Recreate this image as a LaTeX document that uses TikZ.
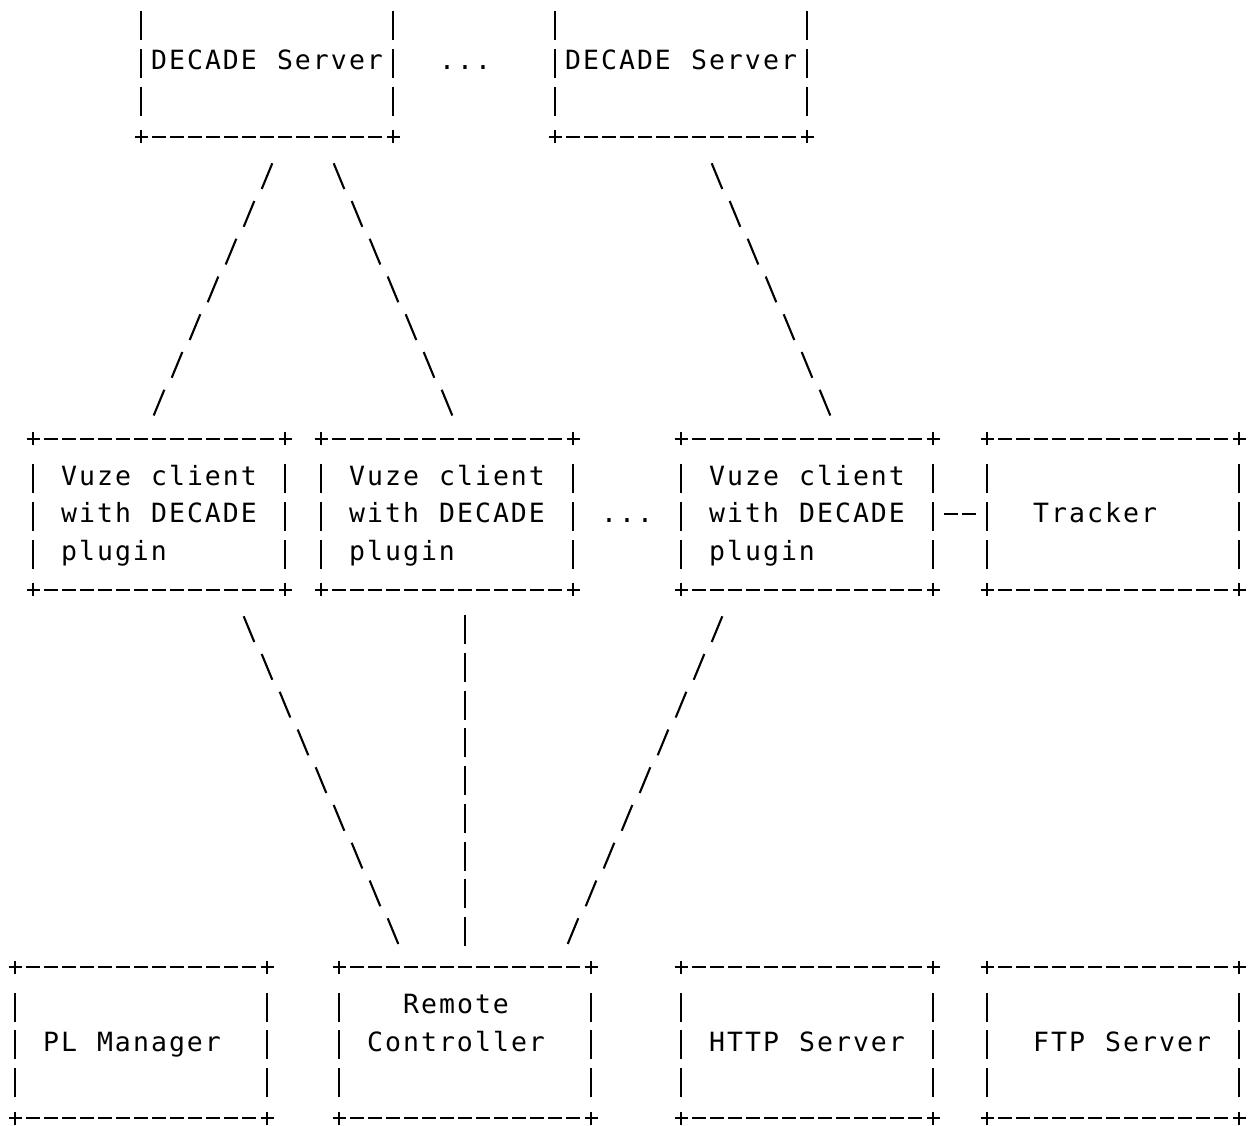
\documentclass[tikz,border=0pt]{standalone}
\usepackage{fontspec}
\newfontfamily\asciifont{DejaVu Sans Mono}
% one character per fixed 18pt cell; '_' stands for a blank cell
\def\asciiend{ASCIIEND}
\newcommand\asciiloop[1]{\ifx#1\asciiend\else\hbox to 18pt{\hss\ifx#1_\else#1\fi\hss}\expandafter\asciiloop\fi}
\newcommand\asciiline[1]{\asciiloop#1\asciiend}
\tikzset{
  asc/.style={line width=2.1pt, line cap=butt, black},
  txt/.style={anchor=base west, inner sep=0pt, outer sep=0pt, xshift=-9pt,
    font=\asciifont\fontsize{26.5}{30}\selectfont},
}
% ASCII primitives at cell (column, row)
\newcommand\aplus[2]{\draw[asc] (#1,#2) ++(-6.5pt,8.6pt) -- ++(13pt,0pt) (#1,#2) ++(0pt,2.1pt) -- ++(0pt,13pt);}
\newcommand\adash[2]{\draw[asc] (#1,#2) ++(-6.8pt,8.6pt) -- ++(13.6pt,0pt);}
\newcommand\abar[2]{\draw[asc] (#1,#2) ++(0pt,-8pt) -- ++(0pt,29pt);}
\newcommand\aslash[2]{\draw[asc] (#1,#2) ++(-5.3pt,-6pt) -- ++(10.6pt,25.7pt);}
\newcommand\abslash[2]{\draw[asc] (#1,#2) ++(-5.3pt,19.7pt) -- ++(10.6pt,-25.7pt);}
% ASCII box: name, left col, right col, top row, bottom row
\newcommand\abox[5]{%
  \coordinate (#1) at ({(#2+#3)/2},{(#4+#5)/2});
  \foreach \cc in {#2,#3}{\foreach \rr in {#4,#5}{\aplus{\cc}{\rr}}}
  \pgfmathtruncatemacro\ca{#2+1}\pgfmathtruncatemacro\cb{#3-1}
  \foreach \cc in {\ca,...,\cb}{\adash{\cc}{#4}\adash{\cc}{#5}}
  \pgfmathtruncatemacro\ra{#4+1}\pgfmathtruncatemacro\rb{#5-1}
  \foreach \rr in {\ra,...,\rb}{\abar{#2}{\rr}\abar{#3}{\rr}}
}
\newcommand\atext[4]{\node[txt] (#1) at (#2,#3) {\asciiline{#4}};}
\begin{document}
\begin{tikzpicture}[x=18pt,y=-37.75pt]
\useasboundingbox (0pt,0pt) rectangle (1256pt,-1125pt);
\clip (0pt,0pt) rectangle (1256pt,-1125pt);
\begin{scope}[shift={(15pt,-32pt)}]
% DECADE servers (top borders lie above the frame)
\abox{ds1}{7}{21}{-1}{3}
\abox{ds2}{30}{44}{-1}{3}
\atext{ds1t}{8}{1}{DECADE_Server}
\atext{ds2t}{31}{1}{DECADE_Server}
\atext{dotsA}{24}{1}{...}
% Vuze clients and tracker
\abox{v1}{1}{15}{11}{15}
\abox{v2}{17}{31}{11}{15}
\abox{v3}{37}{51}{11}{15}
\abox{tr}{54}{68}{11}{15}
\foreach \cc/\nm in {3/v1, 19/v2, 39/v3}{
  \atext{\nm a}{\cc}{12}{Vuze_client}
  \atext{\nm b}{\cc}{13}{with_DECADE}
  \atext{\nm c}{\cc}{14}{plugin}
}
\atext{dotsB}{33}{13}{...}
\atext{trt}{57}{13}{Tracker}
\adash{52}{13}\adash{53}{13}
% bottom row
\abox{pl}{0}{14}{25}{29}
\abox{rc}{18}{32}{25}{29}
\abox{http}{37}{51}{25}{29}
\abox{ftp}{54}{68}{25}{29}
\atext{plt}{2}{27}{PL_Manager}
\atext{rct1}{22}{26}{Remote}
\atext{rct2}{20}{27}{Controller}
\atext{httpt}{39}{27}{HTTP_Server}
\atext{ftpt}{57}{27}{FTP_Server}
% connectors: servers to clients
\foreach \k in {0,...,6}{
  \aslash{14-\k}{4+\k}
  \abslash{18+\k}{4+\k}
  \abslash{39+\k}{4+\k}
}
% connectors: clients to remote controller
\foreach \k in {0,...,8}{
  \abslash{13+\k}{16+\k}
  \abar{25}{16+\k}
  \aslash{39-\k}{16+\k}
}
\end{scope}
\end{tikzpicture}
\end{document}
